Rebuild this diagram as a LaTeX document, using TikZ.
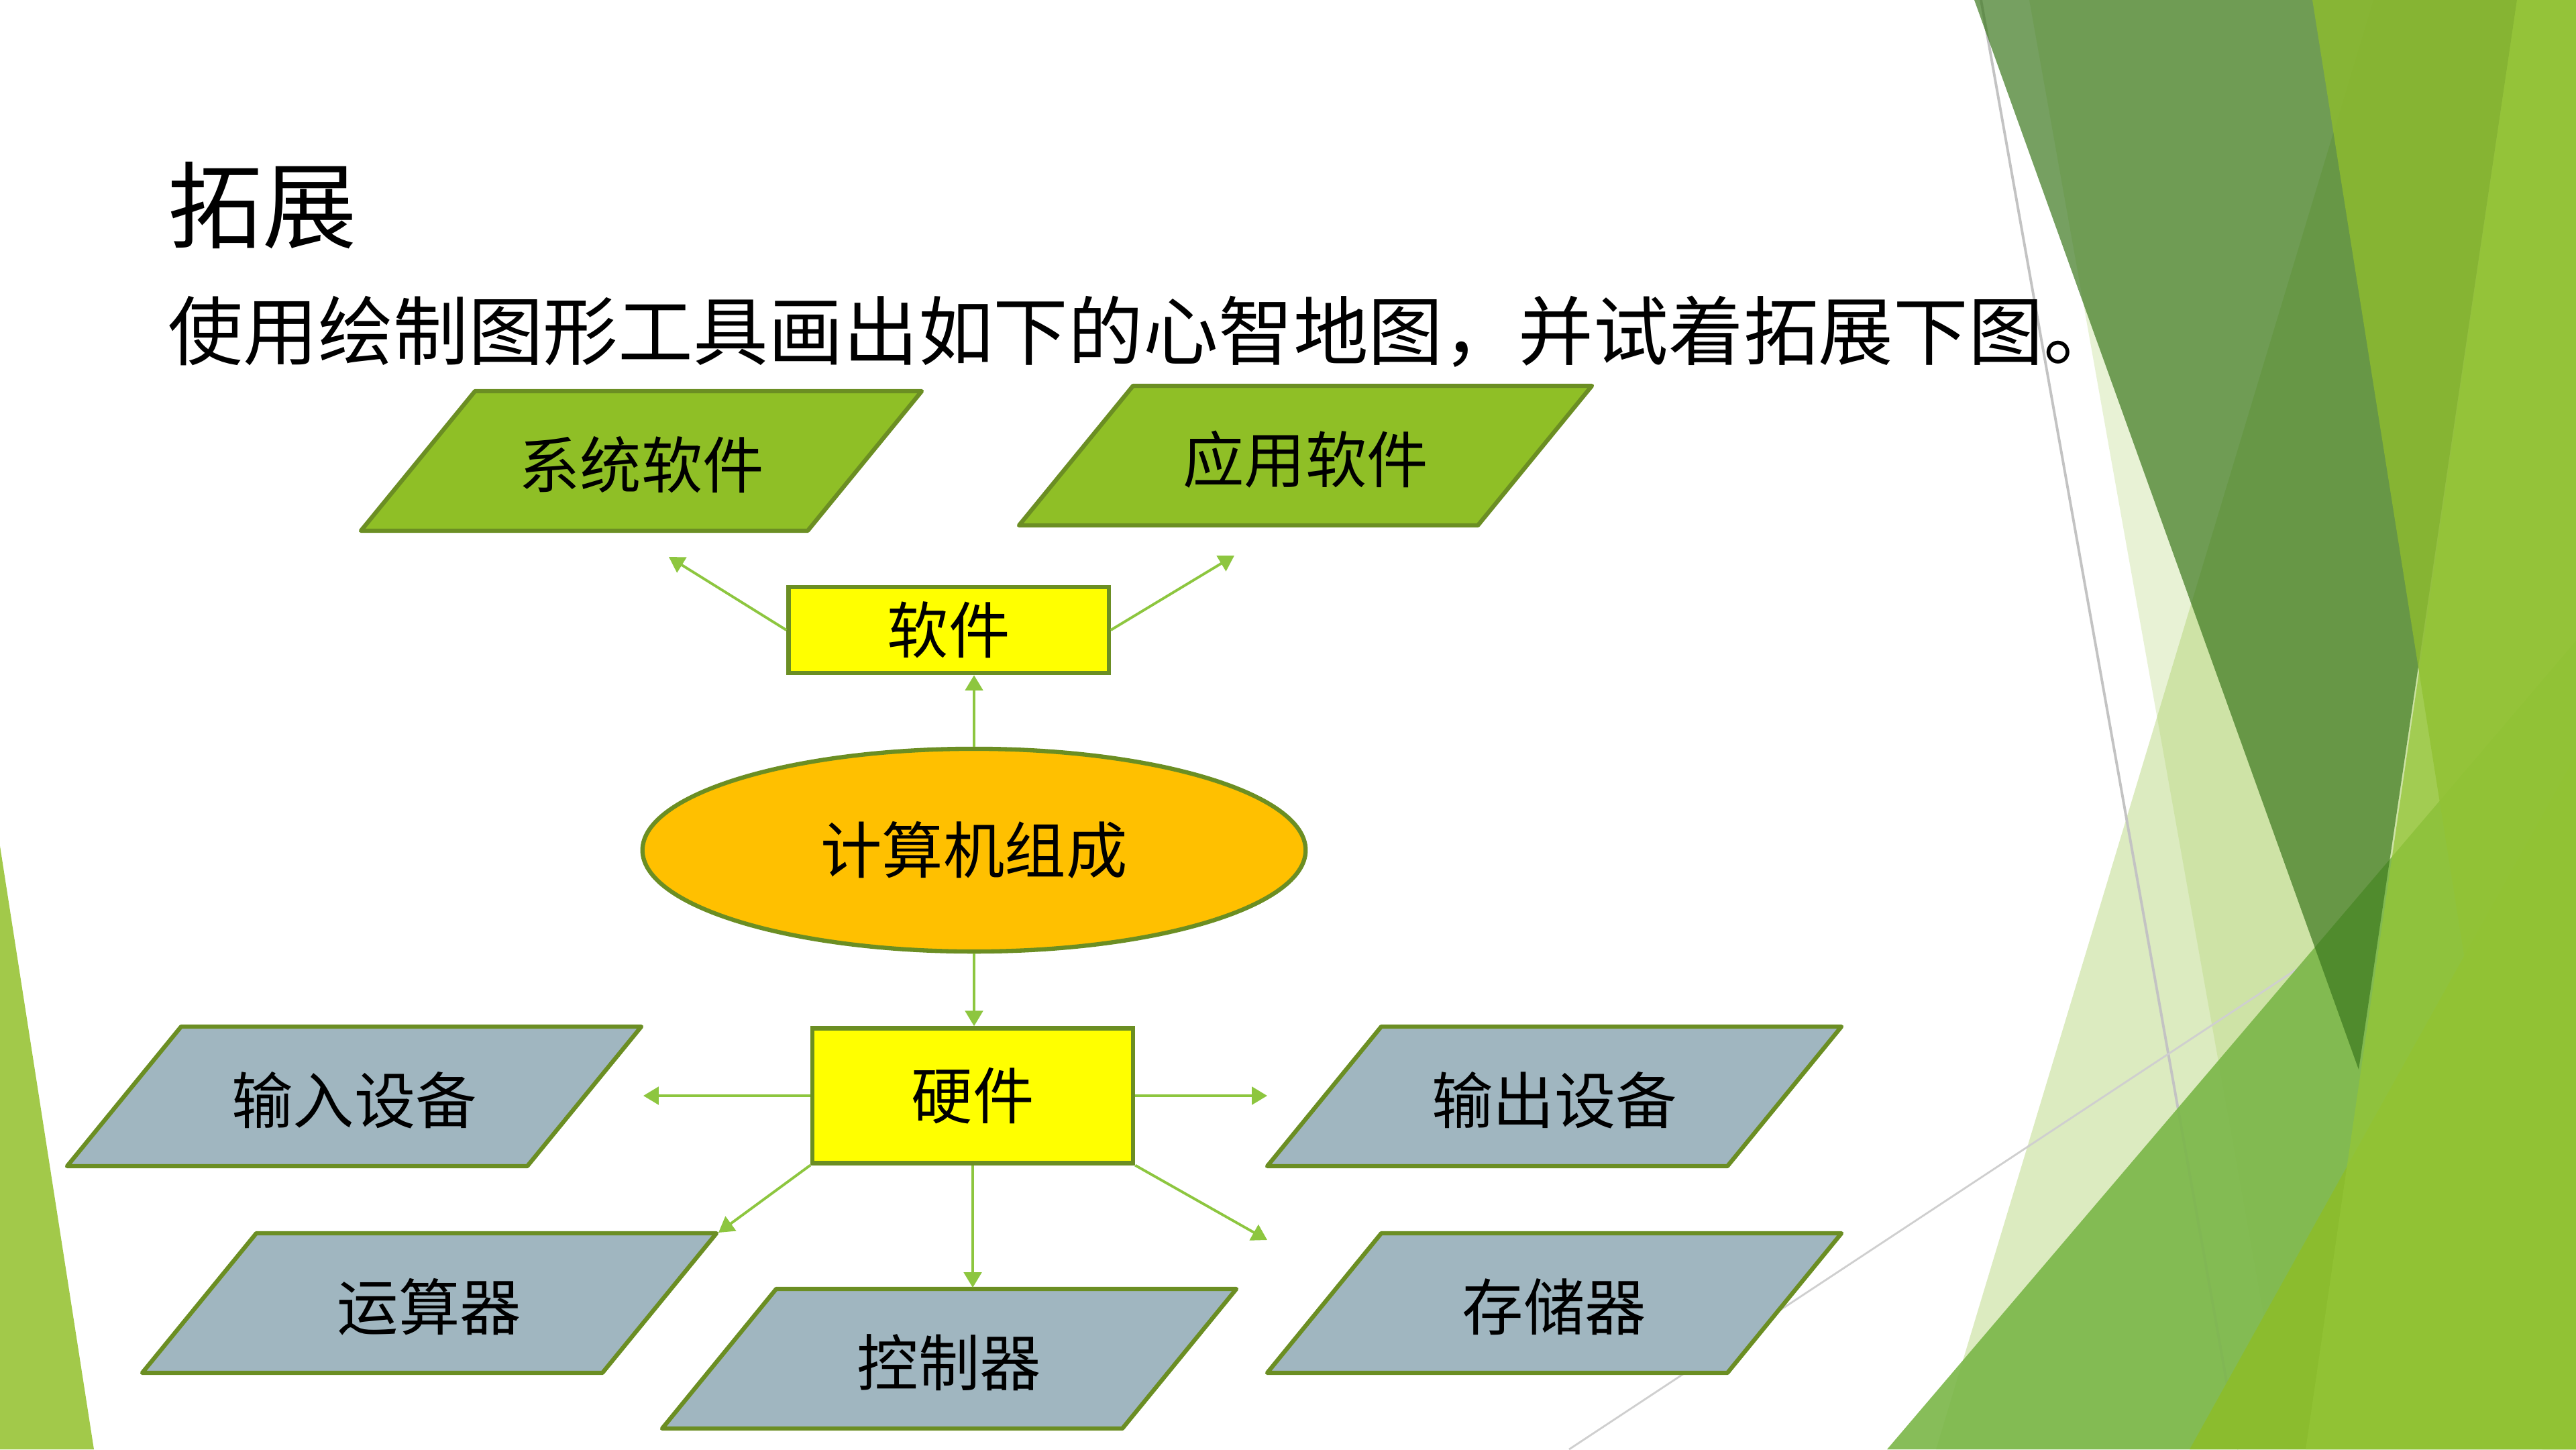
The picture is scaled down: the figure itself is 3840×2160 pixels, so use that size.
\documentclass[tikz,border=0pt]{standalone}
\usepackage{fontspec}
\newfontfamily\cjk{Noto Sans CJK SC}
\usetikzlibrary{arrows.meta,shapes.geometric,calc}
\definecolor{gfill}{RGB}{143,191,38}
\definecolor{gborder}{RGB}{107,142,35}
\definecolor{bfill}{RGB}{160,182,192}
\definecolor{arrowc}{RGB}{141,198,63}
\definecolor{ellc}{RGB}{255,192,0}
\definecolor{ybright}{RGB}{255,255,0}
\definecolor{bgA}{RGB}{165,205,90}
\definecolor{bgDark}{RGB}{60,120,30}
\definecolor{bgMid}{RGB}{122,182,72}
\definecolor{bgBright}{RGB}{140,189,45}
\definecolor{bgSfive}{RGB}{140,186,48}
\definecolor{bgSfour}{RGB}{148,197,55}
\definecolor{wedgecol}{RGB}{162,201,74}
\definecolor{lgray}{RGB}{195,195,195}
\tikzset{
  ntext/.style={font=\cjk\fontsize{26pt}{30pt}\selectfont, inner sep=0pt},
  pgreen/.style={fill=gfill, draw=gborder, line width=1.8pt, line join=round},
  pblue/.style={fill=bfill, draw=gborder, line width=1.8pt, line join=round},
  ybox/.style={rectangle, fill=ybright, draw=gborder, line width=1.8pt, inner sep=0pt,
     font=\cjk\fontsize{26pt}{30pt}\selectfont},
  ellbox/.style={ellipse, fill=ellc, draw=gborder, line width=1.8pt, inner sep=0pt,
     minimum width=9.88cm, minimum height=3.02cm, font=\cjk\fontsize{26pt}{30pt}\selectfont},
  arr/.style={draw=arrowc, line width=1.1pt, -{Triangle[length=6.5pt,width=7.5pt]}},
}
% name, cx, cy, half top width, style, text
\newcommand\pgram[6]{%
  \filldraw[#5] ({#2-#4+85},{#3-104}) -- ({#2+#4+85},{#3-104}) -- ({#2+#4-85},{#3+104}) -- ({#2-#4-85},{#3+104}) -- cycle;
  \node[ntext] (#1) at (#2,{#3+6}) {#6};}
\begin{document}
\begin{tikzpicture}[x=0.01cm,y=-0.01cm]
\useasboundingbox (0,0) rectangle (3840,2160);
\fill[white] (0,0) rectangle (3840,2160);
% background decoration
\fill[wedgecol] (0,1261) -- (140,2160) -- (0,2160) -- cycle;
\fill[bgA, opacity=0.38] (2886,2160) -- (3538,0) -- (3840,0) -- (3840,2160) -- cycle;
\fill[bgA, opacity=0.25] (3025,0) -- (3840,0) -- (3840,2160) -- (3410,2160) -- cycle;
\draw[draw=lgray, line width=1.1pt] (2953,0) -- (3337,2160);
\draw[draw=lgray!80!white, line width=0.8pt] (2339,2160) -- (3441,1433);
\fill[bgMid, opacity=0.9] (2813,2160) -- (3840,955) -- (3840,2160) -- cycle;
\fill[bgDark, opacity=0.7] (2943,0) -- (3752,0) -- (3516,1594) -- cycle;
\fill[bgBright, opacity=0.95] (3264,2160) -- (3840,1125) -- (3840,2160) -- cycle;
\fill[bgSfive, opacity=0.85] (3447,0) -- (3840,0) -- (3840,2160) -- (3790,2160) -- cycle;
\fill[bgSfour, opacity=0.75] (3752,0) -- (3840,0) -- (3840,2160) -- (3437,2160) -- cycle;
% titles
\node[anchor=west, inner sep=0pt, font=\cjk\fontsize{40pt}{46pt}\selectfont] (title) at (250,306) {拓展};
\node[anchor=west, inner sep=0pt, font=\cjk\fontsize{31.8pt}{36pt}\selectfont] (sub) at (250,494) {使用绘制图形工具画出如下的心智地图，并试着拓展下图。};
% diagram
\pgram{sys}{956}{687}{333}{pgreen}{系统软件}
\pgram{app}{1946}{679}{342}{pgreen}{应用软件}
\pgram{inp}{528}{1634}{343}{pblue}{输入设备}
\pgram{outp}{2317}{1634}{343}{pblue}{输出设备}
\pgram{alu}{640}{1942}{343}{pblue}{运算器}
\pgram{ctl}{1415}{2025}{343}{pblue}{控制器}
\pgram{mem}{2317}{1942}{343}{pblue}{存储器}
\node[ybox, minimum width=4.77cm, minimum height=1.28cm] (sw) at (1414,939) {软件};
\node[ellbox] (ell) at (1452,1267) {计算机组成};
\node[ybox, minimum width=4.78cm, minimum height=2.01cm] (hw) at (1450,1633) {硬件};
% arrow end points
\coordinate (tsys) at (997,830);
\coordinate (tapp) at (1840,828);
\coordinate (tinp) at (959,1633);
\coordinate (tout) at (1889,1633);
\coordinate (talu) at (1071,1837);
\coordinate (tctl) at (1452,1919);
\coordinate (tmem) at (1889,1848);
\draw[arr] (sw.west) -- (tsys);
\draw[arr] (sw.east) -- (tapp);
\draw[arr] (ell.north) -- (ell.north |- sw.south);
\draw[arr] (ell.south) -- (ell.south |- hw.north);
\draw[arr] (hw.west) -- (tinp);
\draw[arr] (hw.east) -- (tout);
\draw[arr] (hw.south west) -- (talu);
\draw[arr] (hw.south) -- (hw.south |- tctl);
\draw[arr] (hw.south east) -- (tmem);
\end{tikzpicture}
\end{document}
